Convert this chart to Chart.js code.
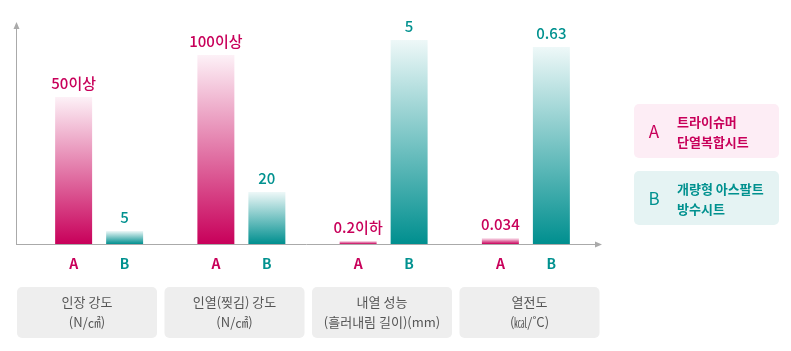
<!DOCTYPE html>
<html><head><meta charset="utf-8">
<script src="https://cdn.jsdelivr.net/npm/chart.js@4/dist/chart.umd.min.js"></script>
<style>html,body{margin:0;padding:0;background:#fff;}#wrap{width:791px;height:351px;position:relative;}</style>
</head><body><div id="wrap"><canvas id="c" width="791" height="351"></canvas></div>
<script>
// Categories (two-line labels)
const categories = [["인장 강도","(N/㎠)"],["인열(찢김) 강도","(N/㎠)"],["내열 성능","(흘러내림 길이)(mm)"],["열전도","(㎉/˚C)"]];
// Drawn bar heights (chart is not to scale)
const barHeightA = [147, 189, 3, 6];
const barHeightB = [13, 52, 204, 197];
// Value labels shown above bars
const valueLabelA = ["50이상","100이상","0.2이하","0.034"];
const valueLabelB = ["5","20","5","0.63"];
const seriesNames = ["A","B"];
const seriesDesc = [["트라이슈머","단열복합시트"],["개량형 아스팔트","방수시트"]];

const FONT = '"Noto Sans CJK KR","Noto Sans",sans-serif';
const colA = {top:'#fdf1f7', bot:'#c8005a', text:'#c8005a', box:'#fdedf5'};
const colB = {top:'#eef8f8', bot:'#008f8f', text:'#00918f', box:'#e5f3f3'};

function grad(c, chart, i, dsIndex){
  const {ctx, chartArea, scales} = chart;
  if(!chartArea || !scales.y) return c.bot;
  const v = chart.data.datasets[dsIndex].data[i];
  const top = scales.y.getPixelForValue(v);
  const base = scales.y.getPixelForValue(0);
  const g = ctx.createLinearGradient(0, top, 0, base);
  g.addColorStop(0, c.top);
  g.addColorStop(1, c.bot);
  return g;
}

const deco = {
  id:'deco',
  afterDraw(chart){
    const ctx = chart.ctx;
    ctx.save();
    // axes
    ctx.strokeStyle = '#aaaaaa'; ctx.fillStyle = '#aaaaaa'; ctx.lineWidth = 1;
    ctx.beginPath(); ctx.moveTo(16.5, 244.5); ctx.lineTo(16.5, 27); ctx.stroke();
    ctx.beginPath(); ctx.moveTo(16.5, 22); ctx.lineTo(13.5, 29); ctx.lineTo(19.5, 29); ctx.closePath(); ctx.fill();
    ctx.beginPath(); ctx.moveTo(16, 244.5); ctx.lineTo(597, 244.5); ctx.stroke();
    ctx.beginPath(); ctx.moveTo(602, 244.5); ctx.lineTo(595, 241.5); ctx.lineTo(595, 247.5); ctx.closePath(); ctx.fill();

    // value labels and A/B letters
    const labs = [valueLabelA, valueLabelB];
    const cols = [colA, colB];
    chart.data.datasets.forEach((ds, d) => {
      const meta = chart.getDatasetMeta(d);
      meta.data.forEach((el, i) => {
        ctx.fillStyle = cols[d].text;
        ctx.textAlign = 'center'; ctx.textBaseline = 'alphabetic';
        ctx.font = '500 15px ' + FONT;
        ctx.fillText(labs[d][i], el.x, el.y - 8);
        ctx.font = 'bold 14px ' + FONT;
        ctx.textBaseline = 'middle';
        ctx.fillText(seriesNames[d], el.x, 264);
      });
    });

    // category boxes
    categories.forEach((lab, i) => {
      const x = 17 + i * 147.5;
      ctx.fillStyle = '#eeeeee';
      ctx.beginPath(); ctx.roundRect(x, 287, 140, 51, 5); ctx.fill();
      ctx.fillStyle = '#555555';
      ctx.font = '13px ' + FONT; ctx.textAlign = 'center'; ctx.textBaseline = 'middle';
      ctx.fillText(lab[0], x + 70, 302);
      ctx.fillText(lab[1], x + 70, 322);
    });

    // legend
    seriesNames.forEach((n, i) => {
      const y = 104 + i * 67;
      ctx.fillStyle = cols[i].box;
      ctx.beginPath(); ctx.roundRect(634, y, 145, 54, 5); ctx.fill();
      ctx.fillStyle = cols[i].text;
      ctx.textAlign = 'center'; ctx.textBaseline = 'middle';
      ctx.font = '17px ' + FONT;
      ctx.fillText(n, 654, y + 28);
      ctx.textAlign = 'left';
      ctx.font = 'bold 13px ' + FONT;
      ctx.fillText(seriesDesc[i][0], 677, y + 18);
      ctx.fillText(seriesDesc[i][1], 677, y + 38);
    });
    ctx.restore();
  }
};

new Chart(document.getElementById('c'), {
  type:'bar',
  data:{
    labels: categories.map(c => c.join(' ')),
    datasets:[
      {label:seriesNames[0], data:barHeightA, backgroundColor:(ctx)=>grad(colA, ctx.chart, ctx.dataIndex, 0)},
      {label:seriesNames[1], data:barHeightB, backgroundColor:(ctx)=>grad(colB, ctx.chart, ctx.dataIndex, 1)}
    ]
  },
  options:{
    responsive:false, animation:false,
    layout:{padding:{left:28, right:194, top:25, bottom:107}},
    datasets:{bar:{categoryPercentage:0.717, barPercentage:0.725}},
    scales:{
      x:{display:false, grid:{display:false}},
      y:{display:false, min:0, max:219, grid:{display:false}}
    },
    plugins:{legend:{display:false}, tooltip:{enabled:false}}
  },
  plugins:[deco]
});
</script></body></html>
